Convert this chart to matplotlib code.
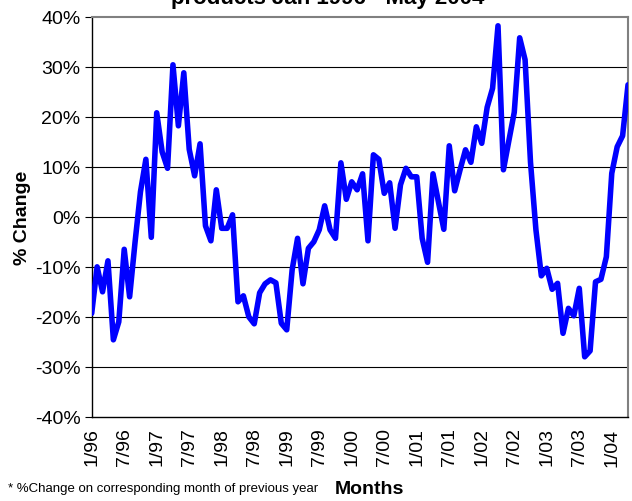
import matplotlib

matplotlib.use("Agg")
import matplotlib.pyplot as plt
from matplotlib.ticker import FuncFormatter
import numpy as np

plt.rcParams["font.family"] = ["Liberation Sans", "DejaVu Sans"]

# monthly % change on same month of previous year, Jan 1996 onwards
pct_change = [
    -19.2, -9.9, -14.9, -8.7, -24.5, -20.9, -6.4, -15.9, -5.0, 5.1,
    11.6, -4.0, 20.9, 13.1, 9.8, 30.5, 18.3, 28.9, 13.6, 8.3,
    14.7, -1.7, -4.7, 5.5, -2.2, -2.2, 0.5, -16.9, -15.7, -19.9,
    -21.3, -15.1, -13.3, -12.5, -13.1, -21.2, -22.5, -10.5, -4.2, -13.3,
    -6.2, -4.9, -2.5, 2.3, -2.5, -4.2, 10.9, 3.6, 7.1, 5.5,
    8.7, -4.7, 12.5, 11.6, 4.8, 6.9, -2.2, 6.5, 9.8, 8.1,
    8.1, -4.2, -9.0, 8.7, 3.1, -2.4, 14.3, 5.3, 9.5, 13.5,
    11.0, 18.1, 14.8, 22.0, 25.8, 38.3, 9.5, 15.3, 21.0, 35.9,
    31.5, 11.0, -2.5, -11.7, -10.2, -14.4, -13.2, -23.2, -18.2, -19.7,
    -14.2, -27.9, -26.7, -12.9, -12.4, -7.9, 8.8, 14.1, 16.3, 26.5,
]
tick_labels = ["1/96", "7/96", "1/97", "7/97", "1/98", "7/98", "1/99", "7/99",
               "1/00", "7/00", "1/01", "7/01", "1/02", "7/02", "1/03", "7/03", "1/04"]
y_ticks = [-40, -30, -20, -10, 0, 10, 20, 30, 40]

months = np.arange(len(pct_change))

fig = plt.figure(figsize=(6.32, 5.01), dpi=100)
ax = fig.add_axes([0.1451, 0.167, 0.9937 - 0.1451, 0.9655 - 0.167])

for v in y_ticks[1:-1]:
    ax.axhline(v, color="black", lw=0.8, zorder=1)

ax.plot(months, pct_change, color="#0000FF", lw=4, solid_joinstyle="round",
        solid_capstyle="round", zorder=3)

ax.set_xlim(0, len(pct_change) - 1)
ax.set_ylim(-40, 40)
ax.set_yticks(y_ticks)
ax.yaxis.set_major_formatter(FuncFormatter(lambda v, _: f"{v:.0f}%"))
ax.set_xticks(np.arange(0, len(tick_labels) * 6, 6))
ax.set_xticklabels(tick_labels, rotation=90)
ax.tick_params(axis="x", length=0, pad=8, labelsize=14)
ax.tick_params(axis="y", length=5, width=0.8, direction="out", pad=3, labelsize=14)

for side in ["top", "right"]:
    ax.spines[side].set_color("#808080")
    ax.spines[side].set_linewidth(1.5)
for side in ["left", "bottom"]:
    ax.spines[side].set_color("black")
    ax.spines[side].set_linewidth(1.0)

fig.text(0.036, 0.566, "% Change", rotation=90, fontsize=14, fontweight="bold",
         ha="center", va="center")
fig.text(0.584, 0.006, "Months", fontsize=14, fontweight="bold", ha="center", va="bottom")
fig.text(0.012, 0.012, "* %Change on corresponding month of previous year", fontsize=9.5,
         ha="left", va="bottom")
# title sits partly above the top edge, as in the source chart
fig.text(0.519, 0.993, "products Jan 1996 - May 2004", fontsize=16, fontweight="bold",
         ha="center", va="baseline")

fig.savefig("out.png", dpi=100)
